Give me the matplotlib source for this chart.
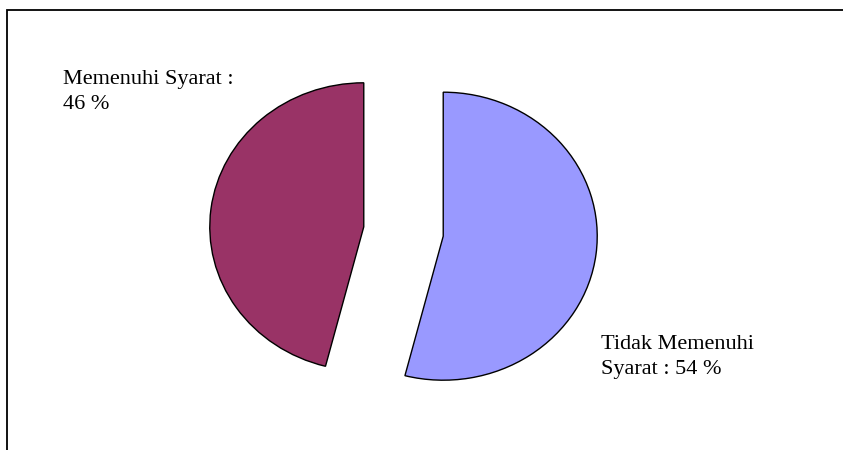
import matplotlib.pyplot as plt
from matplotlib.patches import Rectangle

# data
labels = ["Tidak Memenuhi\nSyarat : 54 %", "Memenuhi Syarat :\n46 %"]
values = [54, 46]
colors = ["#9999FF", "#993366"]

W, H = 843, 450
fig = plt.figure(figsize=(W / 100, H / 100), dpi=100)
ax = fig.add_axes([0, 0, 1, 1])

# pie is a little wider than tall in the original, so scale x and y separately
rx, ry = 154, 144
cx, cy = 403.5, 231.5
ax.pie(values, colors=colors, startangle=90, counterclock=False,
       explode=[0.26, 0.26], radius=1, center=(cx / rx, (H - cy) / ry),
       wedgeprops=dict(edgecolor="black", linewidth=1.0), frame=True)
ax.set_aspect("auto")
ax.set_xlim(0, W / rx)
ax.set_ylim(0, H / ry)
ax.axis("off")

font = dict(family="Liberation Serif", fontsize=16, color="black",
            linespacing=1.4, va="top", ha="left")
fig.text(601 / W, 1 - 335 / H, labels[0], **font)
fig.text(63 / W, 1 - 70 / H, labels[1], **font)

# frame round the chart area (right and bottom edges are cut off)
fig.add_artist(Rectangle((7 / W, -0.1), 1.2, 1.1 - 10 / H,
                         transform=fig.transFigure, fill=False,
                         edgecolor="black", linewidth=1.3))

fig.savefig("out.png", dpi=100, facecolor="white")
